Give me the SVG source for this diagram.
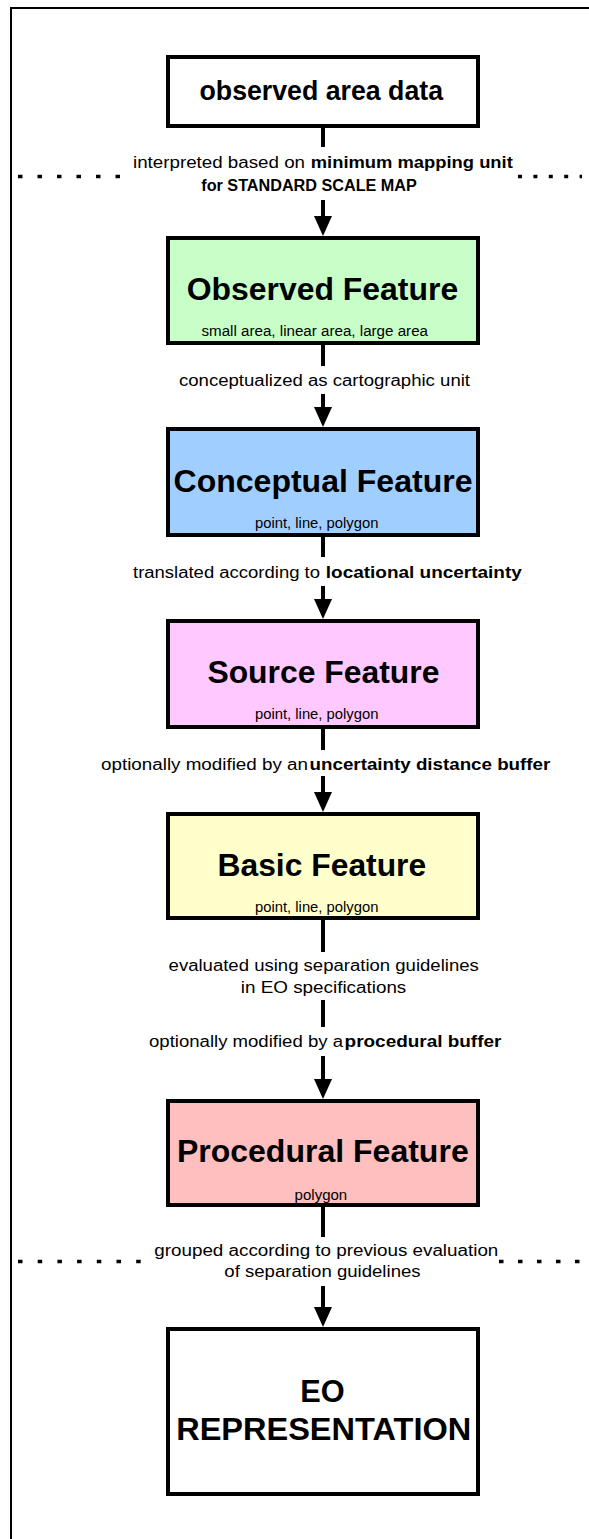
<svg xmlns="http://www.w3.org/2000/svg" width="589" height="1539" viewBox="0 0 589 1539">
<style>
.box{stroke:#000;stroke-width:4}
.h{font-family:"Liberation Sans",Arial,sans-serif;font-weight:bold;fill:#000}
.s{font-family:"Liberation Sans",Arial,sans-serif;font-size:15.5px;fill:#000}
.l{font-family:"Liberation Sans",Arial,sans-serif;font-size:16px;fill:#000}
.lb{font-family:"Liberation Sans",Arial,sans-serif;font-size:16px;font-weight:bold;fill:#000}
.conn{stroke:#000;stroke-width:4;fill:none}
.arr{stroke:#000;stroke-width:4;fill:none;marker-end:url(#ah)}
.dot{stroke:#000;stroke-width:3.5;fill:none}
</style>
<defs>
<marker id="ah" markerUnits="userSpaceOnUse" markerWidth="20" markerHeight="18" viewBox="0 0 20 18" refX="10" refY="9" orient="auto">
<path d="M0,0 L20,9 L0,18 z" fill="#000"/>
</marker>
</defs>
<rect width="589" height="1539" fill="#fff"/>
<g id="frame">
<line x1="11" y1="7" x2="11" y2="1539" stroke="#000" stroke-width="2"/>
<line x1="10" y1="8" x2="589" y2="8" stroke="#000" stroke-width="2"/>
</g>
<g id="separators">
<line class="dot" x1="18" y1="176.5" x2="121" y2="176.5" stroke-dasharray="4.5 15"/>
<line class="dot" x1="518" y1="176.5" x2="582" y2="176.5" stroke-dasharray="4 11.4"/>
<line class="dot" x1="18" y1="1261.5" x2="141" y2="1261.5" stroke-dasharray="4.5 15.2"/>
<line class="dot" x1="499" y1="1261.5" x2="580" y2="1261.5" stroke-dasharray="4.5 14.5"/>
</g>
<g id="connectors">
<line class="conn" x1="323" y1="128" x2="323" y2="147"/>
<line class="arr" x1="323" y1="200" x2="323" y2="226"/>
<line class="conn" x1="323" y1="345" x2="323" y2="366"/>
<line class="arr" x1="323" y1="394" x2="323" y2="417"/>
<line class="conn" x1="323" y1="537" x2="323" y2="557"/>
<line class="arr" x1="323" y1="586" x2="323" y2="609"/>
<line class="conn" x1="323" y1="729" x2="323" y2="750"/>
<line class="arr" x1="323" y1="776" x2="323" y2="802"/>
<line class="conn" x1="323" y1="920" x2="323" y2="952"/>
<line class="conn" x1="323" y1="1000" x2="323" y2="1027"/>
<line class="arr" x1="323" y1="1056" x2="323" y2="1089"/>
<line class="conn" x1="323" y1="1207" x2="323" y2="1237"/>
<line class="arr" x1="323" y1="1286" x2="323" y2="1317"/>
</g>
<g id="labels">
<text class="l" x="133" y="168" textLength="172" lengthAdjust="spacingAndGlyphs">interpreted based on</text>
<text class="lb" x="310.8" y="168" textLength="202" lengthAdjust="spacingAndGlyphs">minimum mapping unit</text>
<text class="lb" x="201.3" y="191" textLength="215.5" lengthAdjust="spacingAndGlyphs">for STANDARD SCALE MAP</text>
<text class="l" x="179" y="386" textLength="291" lengthAdjust="spacingAndGlyphs">conceptualized as cartographic unit</text>
<text class="l" x="133" y="578" textLength="187" lengthAdjust="spacingAndGlyphs">translated according to</text>
<text class="lb" x="325.8" y="578" textLength="196" lengthAdjust="spacingAndGlyphs">locational uncertainty</text>
<text class="l" x="101" y="770" textLength="207" lengthAdjust="spacingAndGlyphs">optionally modified by an</text>
<text class="lb" x="309.6" y="770" textLength="240.7" lengthAdjust="spacingAndGlyphs">uncertainty distance buffer</text>
<text class="l" x="168.6" y="971" textLength="310.2" lengthAdjust="spacingAndGlyphs">evaluated using separation guidelines</text>
<text class="l" x="240.8" y="993" textLength="165.5" lengthAdjust="spacingAndGlyphs">in EO specifications</text>
<text class="l" x="149" y="1047" textLength="194" lengthAdjust="spacingAndGlyphs">optionally modified by a</text>
<text class="lb" x="344.6" y="1047" textLength="156.8" lengthAdjust="spacingAndGlyphs">procedural buffer</text>
<text class="l" x="154.3" y="1256" textLength="344" lengthAdjust="spacingAndGlyphs">grouped according to previous evaluation</text>
<text class="l" x="224.3" y="1277" textLength="196.3" lengthAdjust="spacingAndGlyphs">of separation guidelines</text>
</g>
<g id="observed-area-data">
<rect class="box" x="168" y="57" width="310" height="69" fill="#fff"/>
<text class="h" x="199.5" y="100" font-size="28" textLength="243.5" lengthAdjust="spacingAndGlyphs">observed area data</text>
</g>
<g id="observed-feature">
<rect class="box" x="168" y="238" width="310" height="105" fill="#C8FFC8"/>
<text class="h" x="186.7" y="300" font-size="31" textLength="271.5" lengthAdjust="spacingAndGlyphs">Observed Feature</text>
<text class="s" x="201.5" y="336" textLength="226.5" lengthAdjust="spacingAndGlyphs">small area, linear area, large area</text>
</g>
<g id="conceptual-feature">
<rect class="box" x="168" y="429" width="310" height="106" fill="#A0CFFF"/>
<text class="h" x="173.5" y="492" font-size="31" textLength="299" lengthAdjust="spacingAndGlyphs">Conceptual Feature</text>
<text class="s" x="255" y="528" textLength="123.4" lengthAdjust="spacingAndGlyphs">point, line, polygon</text>
</g>
<g id="source-feature">
<rect class="box" x="168" y="621" width="310" height="106" fill="#FFC8FF"/>
<text class="h" x="207.4" y="683" font-size="31" textLength="232" lengthAdjust="spacingAndGlyphs">Source Feature</text>
<text class="s" x="255" y="719" textLength="123.4" lengthAdjust="spacingAndGlyphs">point, line, polygon</text>
</g>
<g id="basic-feature">
<rect class="box" x="168" y="814" width="310" height="104" fill="#FFFFCC"/>
<text class="h" x="217.5" y="876" font-size="31" textLength="208.7" lengthAdjust="spacingAndGlyphs">Basic Feature</text>
<text class="s" x="255" y="912" textLength="123.4" lengthAdjust="spacingAndGlyphs">point, line, polygon</text>
</g>
<g id="procedural-feature">
<rect class="box" x="168" y="1101" width="310" height="104" fill="#FFBFBF"/>
<text class="h" x="176.9" y="1162" font-size="31" textLength="291.8" lengthAdjust="spacingAndGlyphs">Procedural Feature</text>
<text class="s" x="294.6" y="1200" textLength="52.6" lengthAdjust="spacingAndGlyphs">polygon</text>
</g>
<g id="eo-representation">
<rect class="box" x="168" y="1329" width="310" height="165" fill="#fff"/>
<text class="h" x="300.2" y="1402" font-size="31" textLength="44.4" lengthAdjust="spacingAndGlyphs">EO</text>
<text class="h" x="176.2" y="1440" font-size="31" textLength="295" lengthAdjust="spacingAndGlyphs">REPRESENTATION</text>
</g>
</svg>
